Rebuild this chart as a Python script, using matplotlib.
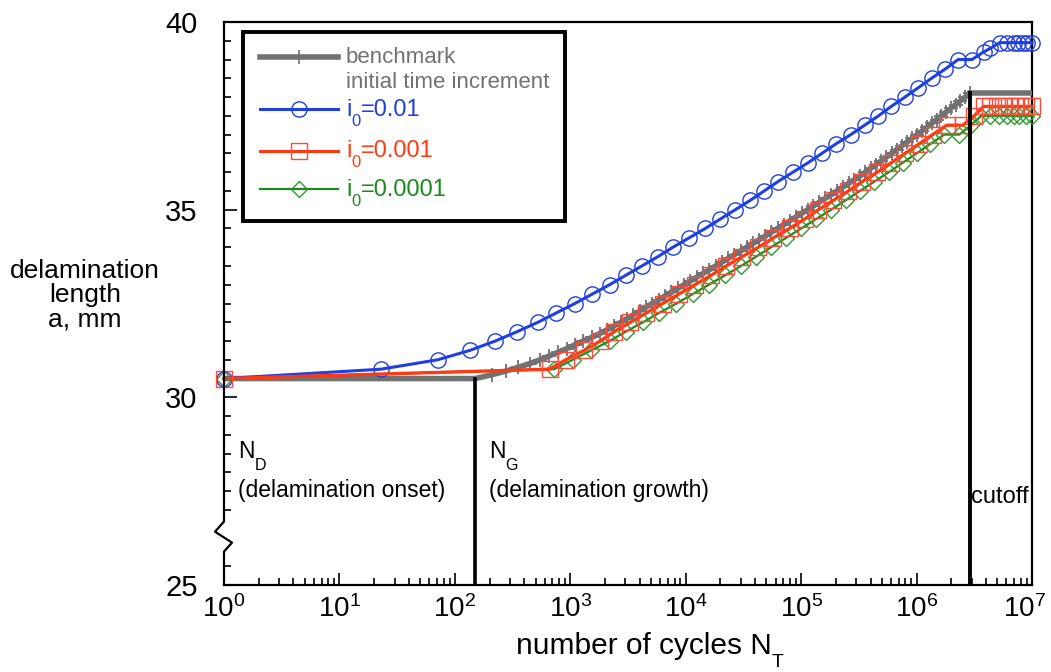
import numpy as np
import matplotlib
matplotlib.use("Agg")
import matplotlib.pyplot as plt
from matplotlib.lines import Line2D
from matplotlib.patches import Rectangle
from matplotlib.ticker import FixedLocator, LogLocator, NullFormatter
from matplotlib.transforms import offset_copy, blended_transform_factory

plt.rcParams['font.family'] = ['Liberation Sans', 'DejaVu Sans']
plt.rcParams['mathtext.fontset'] = 'custom'
plt.rcParams['mathtext.rm'] = 'Liberation Sans'
plt.rcParams['mathtext.it'] = 'Liberation Sans'
plt.rcParams['mathtext.bf'] = 'Liberation Sans'

# ---------------- data (x as log10 of number of cycles) ----------------
bench_logN = [0.0, 2.176,
              2.319, 2.443, 2.547, 2.651, 2.738, 2.816, 2.894, 2.972, 3.041, 3.110, 3.188,
              3.255, 3.318, 3.378, 3.436, 3.492, 3.547, 3.601, 3.655,
              3.710, 3.765, 3.820, 3.875, 3.930, 3.985, 4.040, 4.095, 4.150, 4.205,
              4.259, 4.313, 4.367, 4.421, 4.475, 4.529, 4.583, 4.637, 4.690, 4.743, 4.796,
              4.848, 4.900, 4.952, 5.004, 5.056, 5.107, 5.158, 5.209, 5.260, 5.311,
              5.361, 5.411, 5.461, 5.510,
              5.556, 5.602, 5.648, 5.693, 5.738, 5.783, 5.828,
              5.872, 5.916, 5.960, 6.004, 6.048,
              6.090, 6.131, 6.173, 6.214, 6.256, 6.297, 6.339, 6.380, 6.422, 6.463]
bench_a = [30.5, 30.5,
           30.6, 30.7, 30.8, 30.9, 31.0, 31.1, 31.2, 31.3, 31.4, 31.5, 31.6,
           31.7, 31.8, 31.9, 32.0, 32.1, 32.2, 32.3, 32.4,
           32.5, 32.6, 32.7, 32.8, 32.9, 33.0, 33.1, 33.2, 33.3, 33.4,
           33.5, 33.6, 33.7, 33.8, 33.9, 34.0, 34.1, 34.2, 34.3, 34.4, 34.5,
           34.6, 34.7, 34.8, 34.9, 35.0, 35.1, 35.2, 35.3, 35.4, 35.5,
           35.6, 35.7, 35.8, 35.9,
           36.0, 36.1, 36.2, 36.3, 36.4, 36.5, 36.6,
           36.7, 36.8, 36.9, 37.0, 37.1,
           37.2, 37.3, 37.4, 37.5, 37.6, 37.7, 37.8, 37.9, 38.0, 38.1]
bench_after_logN = [6.463, 7.0]
bench_after_a = [38.1, 38.1]

blue_logN = [0.0, 1.36, 1.85, 2.13, 2.35, 2.54, 2.72, 2.88, 3.04, 3.19, 3.34, 3.48,
             3.62, 3.76, 3.89, 4.03, 4.17, 4.30, 4.43, 4.56, 4.68, 4.80, 4.93,
             5.06, 5.18, 5.30, 5.43, 5.55, 5.67, 5.78, 5.90, 6.015, 6.13, 6.25,
             6.36, 6.48, 6.58, 6.64, 6.72, 6.78, 6.84, 6.88, 6.92, 6.96, 7.0]
blue_a = [30.5, 30.75, 31.0, 31.25, 31.5, 31.75, 32.0, 32.25, 32.5, 32.75, 33.0, 33.25,
          33.5, 33.75, 34.0, 34.25, 34.5, 34.75, 35.0, 35.25, 35.5, 35.75, 36.0,
          36.25, 36.5, 36.75, 37.0, 37.25, 37.5, 37.75, 38.0, 38.25, 38.5, 38.75,
          39.0, 39.0, 39.2, 39.3, 39.45, 39.45, 39.45, 39.45, 39.45, 39.45, 39.45]

red_logN = [0.0, 2.82, 2.96, 3.12, 3.26, 3.38, 3.52, 3.66, 3.80, 3.94, 4.08, 4.22,
            4.35, 4.49, 4.63, 4.76, 4.90, 5.03, 5.15, 5.28, 5.41, 5.53, 5.66,
            5.78, 5.90, 6.02, 6.14, 6.26, 6.40, 6.50, 6.58, 6.64, 6.70, 6.75,
            6.80, 6.85, 6.90, 6.95, 7.0]
red_a = [30.5, 30.75, 31.0, 31.25, 31.5, 31.75, 32.0, 32.25, 32.5, 32.75, 33.0, 33.25,
         33.5, 33.75, 34.0, 34.25, 34.5, 34.75, 35.0, 35.25, 35.5, 35.75, 36.0,
         36.25, 36.5, 36.75, 37.0, 37.25, 37.25, 37.5, 37.75, 37.75, 37.75, 37.75,
         37.75, 37.75, 37.75, 37.75, 37.75]

green_logN = [0.0, 2.86, 3.02, 3.18, 3.34, 3.48, 3.63, 3.77, 3.92, 4.06, 4.20, 4.34,
              4.48, 4.61, 4.74, 4.87, 5.00, 5.13, 5.26, 5.385, 5.51, 5.635, 5.76,
              5.88, 6.00, 6.12, 6.24, 6.37, 6.47, 6.56, 6.64, 6.71, 6.78, 6.84,
              6.89, 6.95, 7.0]
green_a = [30.5, 30.75, 31.0, 31.25, 31.5, 31.75, 32.0, 32.25, 32.5, 32.75, 33.0, 33.25,
           33.5, 33.75, 34.0, 34.25, 34.5, 34.75, 35.0, 35.25, 35.5, 35.75, 36.0,
           36.25, 36.5, 36.75, 37.0, 37.0, 37.25, 37.5, 37.5, 37.5, 37.5, 37.5,
           37.5, 37.5, 37.5]

N_G = 150.0        # delamination growth onset
N_cutoff = 2.9e6   # cutoff
a_NG = 30.5
a_cut = 38.1

xtick_exps = [0, 1, 2, 3, 4, 5, 6, 7]
ytick_vals = [25, 30, 35, 40]

# legend labels as (base, subscript, rest)
leg_bench = 'benchmark'
leg_title = 'initial time increment'
leg_series = [('i', '0', '=0.01'), ('i', '0', '=0.001'), ('i', '0', '=0.0001')]

# ---------------- styles ----------------
C_GRAY = '#727272'
C_BLUE = '#1f3fe0'
C_RED = '#ff3a10'
C_REDM = '#ff4a3a'
C_GREEN = '#1c8a1c'
C_GREENM = '#2e9a2e'

fig = plt.figure(figsize=(10.51, 6.72), dpi=100)
ax = fig.add_axes([224/1051, 1-585/672, 808/1051, 563/672])
ax.set_xscale('log')
ax.set_xlim(1, 1e7)
ax.set_ylim(25, 40)

p10 = lambda v: np.power(10.0, np.asarray(v, dtype=float))

# benchmark
ax.plot(p10(bench_logN), bench_a, color=C_GRAY, lw=4.0, marker='+', ms=10, mew=1.3,
        markevery=list(range(2, len(bench_logN))), zorder=3, solid_joinstyle='round')
ax.plot(p10(bench_after_logN), bench_after_a, color=C_GRAY, lw=4.0, zorder=3)

# series
ax.plot(p10(blue_logN), blue_a, color=C_BLUE, lw=2.2, marker='o', ms=11, mfc='none',
        mec=C_BLUE, mew=1.0, zorder=5, clip_on=False)
ax.plot(p10(red_logN), red_a, color=C_RED, lw=2.4, marker='s', ms=11.5, mfc='none',
        mec=C_REDM, mew=1.0, zorder=5, clip_on=False)
ax.plot(p10(green_logN), green_a, color=C_GREEN, lw=1.6, marker='D', ms=8.5, mfc='none',
        mec=C_GREENM, mew=1.0, zorder=4, clip_on=False)

# vertical markers
ax.plot([N_G, N_G], [25, a_NG], color='black', lw=2.6, zorder=6)
ax.plot([N_cutoff, N_cutoff], [25, a_cut], color='black', lw=2.8, zorder=6)

# ticks
ax.xaxis.set_major_locator(FixedLocator(p10(xtick_exps)))
ax.xaxis.set_major_formatter(NullFormatter())
ax.xaxis.set_minor_locator(LogLocator(base=10, subs=np.arange(2, 10), numticks=100))
ax.xaxis.set_minor_formatter(NullFormatter())
ax.yaxis.set_major_locator(FixedLocator(ytick_vals))
ax.yaxis.set_minor_locator(FixedLocator([25.5, 27.0, 27.5, 28.0, 28.5, 29.0, 29.5,
                                         30.5, 31, 31.5, 32, 32.5, 33, 33.5, 34, 34.5,
                                         35.5, 36, 36.5, 37, 37.5, 38, 38.5, 39, 39.5]))
ax.tick_params(which='both', direction='in', top=False, right=False,
               width=1.2, colors='black')
ax.tick_params(axis='y', labelsize=21)
ax.tick_params(which='major', length=9)
ax.tick_params(axis='y', which='major', pad=19)
ax.tick_params(which='minor', length=5)

# x tick labels (10^n), last one nudged left so it stays inside the figure
xlab_tr = blended_transform_factory(ax.transData, ax.transAxes)
for e in xtick_exps:
    shift = -7 if e == xtick_exps[-1] else 0
    ax.text(10.0 ** e, 0, '$\\mathdefault{10^{%d}}$' % e,
            transform=offset_copy(xlab_tr, fig=fig, x=shift, y=-10, units='dots'),
            ha='center', va='top', fontsize=20, clip_on=False)

for s in ['top', 'right', 'bottom']:
    ax.spines[s].set_linewidth(1.6)
ax.spines['left'].set_visible(False)

# left spine with axis-break zigzag
dx = 1.0 / 808
lx = [0, 0, -9*dx, 8*dx, 0, 0]
ly = [1.0, (26.69-25)/15, (26.42-25)/15, (26.13-25)/15, (25.89-25)/15, 0.0]
ax.add_line(Line2D(lx, ly, transform=ax.transAxes, color='black', lw=1.6,
                   clip_on=False, zorder=7))

renderer = fig.canvas.get_renderer()


def chain_text(x, y, parts, color='black', trans=None, zorder=12):
    """Place text pieces side by side; parts = [(string, fontsize, dy_pixels)]."""
    if trans is None:
        trans = ax.transAxes
    cx = x
    for s, fs, dy in parts:
        t = ax.text(cx, y, s, transform=offset_copy(trans, fig=fig, x=0, y=dy, units='dots'),
                    fontsize=fs, va='baseline', ha='left', color=color, zorder=zorder,
                    clip_on=False)
        bb = t.get_window_extent(renderer)
        cx = trans.inverted().transform((bb.x1, 0))[0]


def axf(px, py):
    return ((px-224)/808, (585-py)/563)


# annotations
chain_text(*axf(238, 458), [('N', 16.5, 0), ('D', 11.5, -12)])
ax.text(*axf(238, 497), '(delamination onset)', transform=ax.transAxes, fontsize=16.5,
        va='baseline')
chain_text(*axf(489, 458), [('N', 16.5, 0), ('G', 11.5, -12)])
ax.text(*axf(489, 497), '(delamination growth)', transform=ax.transAxes, fontsize=16.5,
        va='baseline')
ax.text(*axf(971, 503), 'cutoff', transform=ax.transAxes, fontsize=17, va='baseline')

# axis labels
fig.text(85/1051, 1-295/672, 'delamination\nlength\na, mm', ha='center', va='center',
         fontsize=19, linespacing=1.0)
xl_parts = [('number of cycles N', 21.5, 0), ('T', 14, -13)]
# center the x label at pixel x=650
tmp = fig.text(0, 0, xl_parts[0][0], fontsize=xl_parts[0][1])
w0 = tmp.get_window_extent(renderer).width
tmp.remove()
chain_text(*axf(650 - (w0 + 12) / 2, 654), xl_parts)

# manual legend
x0, y0 = axf(243, 221)
x1, y1 = axf(565, 32)
ax.add_patch(Rectangle((x0, y0), x1-x0, y1-y0, transform=ax.transAxes, fill=True,
                       facecolor='white', edgecolor='black', lw=2.8, zorder=10, clip_on=False))
rows = [(57, C_GRAY, 4.0, '+', 10, C_GRAY),
        (109, C_BLUE, 2.2, 'o', 11, C_BLUE),
        (151, C_RED, 2.2, 's', 11.5, C_REDM),
        (189, C_GREEN, 1.6, 'D', 8.5, C_GREENM)]
for py, lc, lw, mk, ms, mec in rows:
    xa, ya = axf(260, py)
    xb, _ = axf(338, py)
    ax.add_line(Line2D([xa, xb], [ya, ya], transform=ax.transAxes, color=lc, lw=lw,
                       zorder=11, clip_on=False))
    xm, _ = axf(299, py)
    ax.add_line(Line2D([xm], [ya], transform=ax.transAxes, marker=mk, ms=ms, mfc='none',
                       mec=mec, mew=1.2 if mk == '+' else 1.0, ls='none', zorder=12,
                       clip_on=False))

ax.text(*axf(346, 63), leg_bench, transform=ax.transAxes, color=C_GRAY, fontsize=16,
        va='baseline', zorder=12)
ax.text(*axf(346, 88), leg_title, transform=ax.transAxes, color=C_GRAY, fontsize=16,
        va='baseline', zorder=12)
for (b, s, r), py, c in zip(leg_series, [116, 157, 196], [C_BLUE, C_RED, C_GREEN]):
    chain_text(*axf(346, py), [(b, 17, 0), (s, 12, -10), (r, 17, 0)], color=c)

fig.savefig('out.png', dpi=100)
